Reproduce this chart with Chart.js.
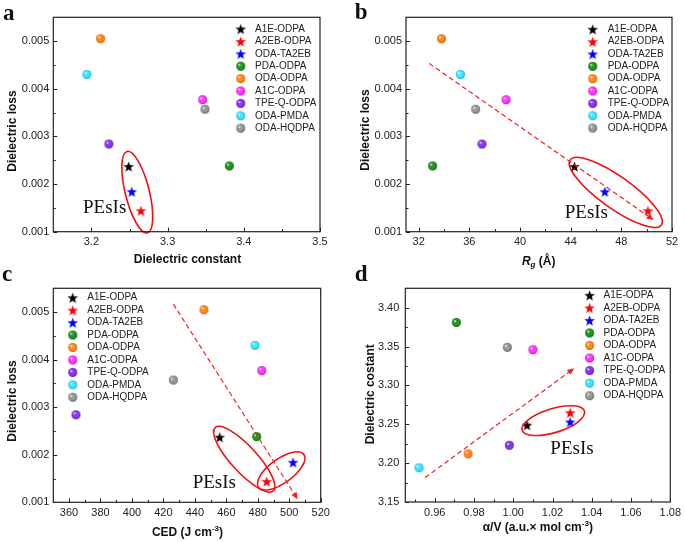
<!DOCTYPE html>
<html>
<head>
<meta charset="utf-8">
<script src="https://cdn.jsdelivr.net/npm/chart.js@4.4.0/dist/chart.umd.min.js"></script>
<style>
  body { margin: 0; background: #fff; width: 685px; height: 542px; position: relative; overflow: hidden; }
  canvas { position: absolute; }
</style>
</head>
<body>
<canvas id="ca" width="342" height="271" style="left:0;top:0"></canvas>
<canvas id="cb" width="343" height="271" style="left:342px;top:0"></canvas>
<canvas id="cc" width="342" height="280" style="left:0;top:262px"></canvas>
<canvas id="cd" width="343" height="280" style="left:342px;top:262px"></canvas>
<script>
// Dados dos polímeros
const names = ['A1E-ODPA', 'A2EB-ODPA', 'ODA-TA2EB', 'PDA-ODPA', 'ODA-ODPA', 'A1C-ODPA', 'TPE-Q-ODPA', 'ODA-PMDA', 'ODA-HQDPA'];
const dielConst = [3.249, 3.265, 3.253, 3.381, 3.212, 3.346, 3.223, 3.194, 3.349];
const dielLoss = [0.00237, 0.00144, 0.00184, 0.00238, 0.00505, 0.00377, 0.00284, 0.00430, 0.00357];
const rg = [44.3, 50.1, 46.7, 33.1, 33.8, 38.9, 37.0, 35.3, 36.5];
const ced = [455.8, 485.7, 502.4, 479.3, 445.8, 482.5, 364.4, 478.2, 426.3];
const alphaV = [1.007, 1.029, 1.029, 0.971, 0.977, 1.010, 0.998, 0.952, 0.997];

// Ticks
const lossTicks = [0.001, 0.002, 0.003, 0.004, 0.005];
const lossMinor = [0.0015, 0.0025, 0.0035, 0.0045];
const constTicks = [3.2, 3.3, 3.4, 3.5];
const constMinor = [3.25, 3.35, 3.45];
const constYTicks = [3.15, 3.20, 3.25, 3.30, 3.35, 3.40];
const constYMinor = [3.175, 3.225, 3.275, 3.325, 3.375];
const rgTicks = [32, 36, 40, 44, 48, 52];
const rgMinor = [34, 38, 42, 46, 50];
const cedTicks = [360, 380, 400, 420, 440, 460, 480, 500, 520];
const cedMinor = [370, 390, 410, 430, 450, 470, 490, 510];
const alphaTicks = [0.96, 0.98, 1.00, 1.02, 1.04, 1.06, 1.08];
const alphaMinor = [0.95, 0.97, 0.99, 1.01, 1.03, 1.05, 1.07];

const SANS = "'Liberation Sans', Arial, sans-serif";
const SERIF = "'Liberation Serif', 'Times New Roman', serif";

// Marcadores: esferas e estrelas
function ballSprite(base, dark) {
    const s = 11, r = 4.5;
    const c = document.createElement('canvas');
    c.width = s; c.height = s;
    const g = c.getContext('2d');
    const grd = g.createRadialGradient(s / 2 - 1.6, s / 2 - 1.6, 0.2, s / 2, s / 2, r);
    grd.addColorStop(0, '#ffffff');
    grd.addColorStop(0.3, base);
    grd.addColorStop(0.7, base);
    grd.addColorStop(1, dark);
    g.fillStyle = grd;
    g.beginPath();
    g.arc(s / 2, s / 2, r, 0, Math.PI * 2);
    g.fill();
    return c;
}

function starSprite(color) {
    const s = 13, R = 5.6, r = 2.3;
    const c = document.createElement('canvas');
    c.width = s; c.height = s;
    const g = c.getContext('2d');
    g.fillStyle = color;
    g.beginPath();
    for (let i = 0; i < 10; i++) {
        const rad = i % 2 ? r : R;
        const a = -Math.PI / 2 + i * Math.PI / 5;
        const px = s / 2 + rad * Math.cos(a), py = s / 2 + 0.6 + rad * Math.sin(a);
        i ? g.lineTo(px, py) : g.moveTo(px, py);
    }
    g.closePath();
    g.fill();
    return c;
}

const sprites = [
    starSprite('#000000'),
    starSprite('#ff0000'),
    starSprite('#0000ff'),
    ballSprite('#1f9a1f', '#0a560a'),
    ballSprite('#ff8a1c', '#cc5a00'),
    ballSprite('#ff3cff', '#b800b8'),
    ballSprite('#8a38ee', '#5510a8'),
    ballSprite('#3fe6ff', '#10a8c8'),
    ballSprite('#999999', '#5e5e5e')
];

// Texto com sub/sobrescrito
function drawRich(ctx, segs, cx, cy, rot) {
    ctx.save();
    ctx.translate(cx, cy);
    if (rot) ctx.rotate(rot);
    let w = 0;
    segs.forEach(s => { ctx.font = s.f; w += ctx.measureText(s.t).width; });
    let x = -w / 2;
    ctx.textBaseline = 'middle';
    ctx.textAlign = 'left';
    ctx.fillStyle = '#111';
    segs.forEach(s => {
        ctx.font = s.f;
        ctx.fillText(s.t, x, s.dy || 0);
        x += ctx.measureText(s.t).width;
    });
    ctx.restore();
}

const B12 = 'bold 12px ' + SANS;
const B8 = 'bold 8px ' + SANS;

const panels = [
    {
        id: 'ca', W: 342, H: 271, area: { l: 53.3, t: 17.3, r: 320, b: 231.7 },
        xs: dielConst, ys: dielLoss,
        x: { min: 3.15, max: 3.5, ticks: constTicks, minor: constMinor, dec: 1 },
        y: { min: 0.001, max: 0.0055, ticks: lossTicks, minor: lossMinor, dec: 3, pad: 4 },
        letter: { t: 'a', x: 3, y: 19.5 },
        xTitle: { segs: [{ t: 'Dielectric constant', f: B12 }], x: 187.5, y: 260 },
        yTitle: { segs: [{ t: 'Dielectric loss', f: B12 }], x: 12.5, y: 131 },
        legend: { anchor: 'right', sx: -79.3, tx: -65, dy: 11.7, step: 12.4 },
        ellipses: [{ x: 3.2602, y: 0.00183, rx: 42, ry: 12, rot: 76 }],
        arrow: null,
        pesis: { x: 3.189, y: 0.001394 }
    },
    {
        id: 'cb', W: 343, H: 271, area: { l: 64, t: 17.3, r: 330, b: 231.7 },
        xs: rg, ys: dielLoss,
        x: { min: 31, max: 52, ticks: rgTicks, minor: rgMinor, dec: 0 },
        y: { min: 0.001, max: 0.0055, ticks: lossTicks, minor: lossMinor, dec: 3, pad: 4 },
        letter: { t: 'b', x: 12.7, y: 19.3 },
        xTitle: { segs: [{ t: 'R', f: 'italic ' + B12 }, { t: 'g', f: 'italic ' + B8, dy: 3 }, { t: ' (Å)', f: B12 }], x: 196.7, y: 261.7 },
        yTitle: { segs: [{ t: 'Dielectric loss', f: B12 }], x: 23.3, y: 130 },
        legend: { anchor: 'right', sx: -79.3, tx: -64.3, dy: 12, step: 12.35 },
        ellipses: [{ x: 47.56, y: 0.001825, rx: 56, ry: 16, rot: 35.5 }],
        arrow: { x1: 32.84, y1: 0.00453, x2: 50.55, y2: 0.001246 },
        pesis: { x: 43.53, y: 0.001282 }
    },
    {
        id: 'cc', W: 342, H: 280, area: { l: 53.3, t: 26.3, r: 320.7, b: 240.3 },
        xs: ced, ys: dielLoss,
        x: { min: 350, max: 520, ticks: cedTicks, minor: cedMinor, dec: 0 },
        y: { min: 0.001, max: 0.0055, ticks: lossTicks, minor: lossMinor, dec: 3, pad: 4 },
        letter: { t: 'c', x: 2, y: 19 },
        xTitle: { segs: [{ t: 'CED (J cm', f: B12 }, { t: '-3', f: B8, dy: -4 }, { t: ')', f: B12 }], x: 187.5, y: 270.7 },
        yTitle: { segs: [{ t: 'Dielectric loss', f: B12 }], x: 12.3, y: 139 },
        legend: { anchor: 'left', sx: 19.4, tx: 34, dy: 9.4, step: 12.45 },
        ellipses: [
            { x: 471.4, y: 0.001905, rx: 43, ry: 13, rot: 47.4 },
            { x: 494.9, y: 0.00166, rx: 28, ry: 12, rot: -36 }
        ],
        arrow: { x1: 426.3, y1: 0.005168, x2: 505.4, y2: 0.001063 },
        pesis: { x: 438.6, y: 0.001295 }
    },
    {
        id: 'cd', W: 343, H: 280, area: { l: 63.3, t: 26.3, r: 330, b: 240 },
        xs: alphaV, ys: dielConst,
        x: { min: 0.945, max: 1.08, ticks: alphaTicks, minor: alphaMinor, dec: 2 },
        y: { min: 3.15, max: 3.425, ticks: constYTicks, minor: constYMinor, dec: 2, pad: 6 },
        letter: { t: 'd', x: 12.7, y: 19 },
        xTitle: { segs: [{ t: 'α/V (a.u.× mol cm', f: B12 }, { t: '-3', f: B8, dy: -4 }, { t: ')', f: B12 }], x: 195.8, y: 265.7 },
        yTitle: { segs: [{ t: 'Dielectric costant', f: B12 }], x: 28.3, y: 132.3 },
        legend: { anchor: 'right', sx: -80.7, tx: -66.7, dy: 7, step: 12.55 },
        ellipses: [{ x: 1.0204, y: 3.2547, rx: 32.6, ry: 12, rot: -17 }],
        arrow: { x1: 0.9551, y1: 3.1814, x2: 1.0311, y2: 3.3222 },
        pesis: { x: 1.0189, y: 3.2116 }
    }
];

// Plugin: moldura, ticks internos, títulos, legenda e anotações
function panelPlugin(p) {
    return {
        id: 'panel',
        afterDatasetsDraw(chart) {
            const ctx = chart.ctx, a = chart.chartArea;
            const sx = chart.scales.x, sy = chart.scales.y;
            ctx.save();
            // ellipses
            ctx.strokeStyle = '#f01010';
            ctx.lineWidth = 1.6;
            p.ellipses.forEach(e => {
                ctx.beginPath();
                ctx.ellipse(sx.getPixelForValue(e.x), sy.getPixelForValue(e.y), e.rx, e.ry, e.rot * Math.PI / 180, 0, Math.PI * 2);
                ctx.stroke();
            });
            // arrow
            if (p.arrow) {
                const x1 = sx.getPixelForValue(p.arrow.x1), y1 = sy.getPixelForValue(p.arrow.y1);
                const x2 = sx.getPixelForValue(p.arrow.x2), y2 = sy.getPixelForValue(p.arrow.y2);
                const ang = Math.atan2(y2 - y1, x2 - x1), hl = 7, hw = 3;
                ctx.strokeStyle = '#f02020';
                ctx.fillStyle = '#f02020';
                ctx.lineWidth = 1.2;
                ctx.setLineDash([5, 3]);
                ctx.beginPath();
                ctx.moveTo(x1, y1);
                ctx.lineTo(x2 - hl * Math.cos(ang), y2 - hl * Math.sin(ang));
                ctx.stroke();
                ctx.setLineDash([]);
                ctx.beginPath();
                ctx.moveTo(x2, y2);
                ctx.lineTo(x2 - hl * Math.cos(ang) + hw * Math.sin(ang), y2 - hl * Math.sin(ang) - hw * Math.cos(ang));
                ctx.lineTo(x2 - hl * Math.cos(ang) - hw * Math.sin(ang), y2 - hl * Math.sin(ang) + hw * Math.cos(ang));
                ctx.closePath();
                ctx.fill();
            }
            // PEsIs
            ctx.fillStyle = '#111';
            ctx.font = '19px ' + SERIF;
            ctx.textAlign = 'left';
            ctx.textBaseline = 'alphabetic';
            ctx.fillText('PEsIs', sx.getPixelForValue(p.pesis.x), sy.getPixelForValue(p.pesis.y));
            // box
            ctx.strokeStyle = '#222';
            ctx.lineWidth = 1.2;
            ctx.strokeRect(a.left, a.top, a.right - a.left, a.bottom - a.top);
            // inward ticks
            ctx.lineWidth = 1;
            ctx.beginPath();
            p.x.ticks.concat(p.x.minor).forEach((v, i) => {
                const len = i < p.x.ticks.length ? 4 : 2.5;
                const px = Math.round(sx.getPixelForValue(v)) + 0.5;
                ctx.moveTo(px, a.bottom);
                ctx.lineTo(px, a.bottom - len);
            });
            p.y.ticks.concat(p.y.minor).forEach((v, i) => {
                const len = i < p.y.ticks.length ? 4 : 2.5;
                const py = Math.round(sy.getPixelForValue(v)) + 0.5;
                ctx.moveTo(a.left, py);
                ctx.lineTo(a.left + len, py);
            });
            ctx.stroke();
            // legend
            const lx = p.legend.anchor === 'right' ? a.right : a.left;
            ctx.font = '10px ' + SANS;
            ctx.textBaseline = 'middle';
            ctx.fillStyle = '#222';
            names.forEach((n, i) => {
                const y = a.top + p.legend.dy + i * p.legend.step;
                const im = sprites[i];
                ctx.drawImage(im, lx + p.legend.sx - im.width / 2, y - im.height / 2);
                ctx.fillText(n, lx + p.legend.tx, y);
            });
            // titles and letter
            drawRich(ctx, p.xTitle.segs, p.xTitle.x, p.xTitle.y, 0);
            drawRich(ctx, p.yTitle.segs, p.yTitle.x, p.yTitle.y, -Math.PI / 2);
            ctx.font = 'bold 23px ' + SERIF;
            ctx.textBaseline = 'alphabetic';
            ctx.fillStyle = '#111';
            ctx.fillText(p.letter.t, p.letter.x, p.letter.y);
            ctx.restore();
        }
    };
}

function buildPanel(p) {
    const datasets = names.map((n, i) => ({
        label: n,
        data: [{ x: p.xs[i], y: p.ys[i] }],
        pointStyle: sprites[i],
        pointRadius: 5,
        pointHoverRadius: 5
    }));
    new Chart(document.getElementById(p.id), {
        type: 'scatter',
        data: { datasets: datasets },
        options: {
            responsive: false,
            animation: false,
            events: [],
            layout: { padding: { left: 0, top: p.area.t, right: p.W - p.area.r, bottom: 0 } },
            plugins: { legend: { display: false }, tooltip: { enabled: false } },
            scales: {
                x: {
                    type: 'linear', min: p.x.min, max: p.x.max,
                    grid: { display: false, drawTicks: false }, border: { display: false },
                    afterBuildTicks: s => { s.ticks = p.x.ticks.map(v => ({ value: v })); },
                    afterFit: s => { s.height = p.H - p.area.b; },
                    ticks: {
                        padding: 4, color: '#222', maxRotation: 0, autoSkip: false,
                        font: { family: SANS, size: 11 },
                        callback: v => v.toFixed(p.x.dec)
                    }
                },
                y: {
                    type: 'linear', min: p.y.min, max: p.y.max,
                    grid: { display: false, drawTicks: false }, border: { display: false },
                    afterBuildTicks: s => { s.ticks = p.y.ticks.map(v => ({ value: v })); },
                    afterFit: s => { s.width = p.area.l; },
                    ticks: {
                        padding: p.y.pad, color: '#222', autoSkip: false,
                        font: { family: SANS, size: 11 },
                        callback: v => v.toFixed(p.y.dec)
                    }
                }
            }
        },
        plugins: [panelPlugin(p)]
    });
}

panels.forEach(buildPanel);
</script>
</body>
</html>
